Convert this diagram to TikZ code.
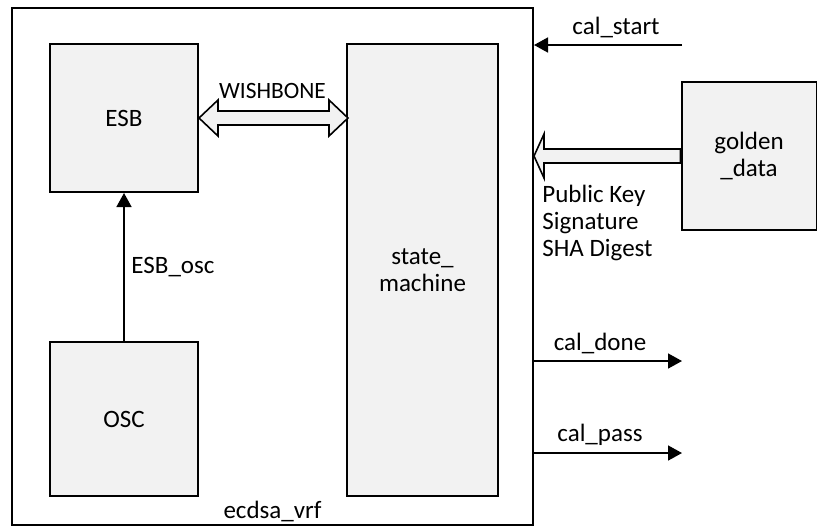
\documentclass[tikz,border=0pt]{standalone}
\usepackage{fontspec}
\setmainfont{Carlito}
\usetikzlibrary{arrows.meta,positioning,calc}
\definecolor{boxgray}{HTML}{F2F2F2}

\begin{document}
\begin{tikzpicture}[x=0.5pt,y=-0.5pt,
  lbl/.style={font=\fontsize{12.5}{13.5}\selectfont},
  blk/.style={draw=black,line width=1pt,fill=boxgray,inner sep=0pt,align=center,lbl},
  sig/.style={-{Triangle[length=7pt,width=7.5pt]},line width=0.8pt},
  bus/.style={draw=black,fill=boxgray,line width=0.8pt,line join=miter}]
  \useasboundingbox (0,0) rectangle (817,527);
  % top level block
  \node[blk,fill=white,minimum width=260.5pt,minimum height=258.5pt] (vrf) at (272.5,266.5) {};
  \node[lbl,above,inner sep=2pt] (vrfname) at (vrf.south) {ecdsa\_vrf};
  % sub blocks
  \node[blk,minimum width=74pt,minimum height=74pt] (esb) at (124,118) {ESB};
  \node[blk,minimum width=74pt,minimum height=77pt] (osc) at (124,419) {OSC};
  \node[blk,minimum width=75.5pt,minimum height=226pt] (sm) at (422.5,270) {state\_\\machine};
  \node[blk,minimum width=67.5pt,minimum height=74pt] (gd) at (749,156) {golden\\\_data};
  % clock line
  \draw[sig] (osc.north) -- node[lbl,right] {ESB\_osc} (esb.south);
  % wishbone bus
  \draw[bus] (esb.east) -- ++(19,-18) -- ++(0,11) -- ++(111,0) -- ++(0,-11) -- ++(19,18)
    -- ++(-19,18) -- ++(0,-11) -- ++(-111,0) -- ++(0,11) -- cycle;
  \node[font=\fontsize{11.7}{13}\selectfont,anchor=south,inner sep=1pt] (wb)
    at ($(esb.east)!0.5!(esb.east -| sm.west)+(0,-17)$) {WISHBONE};
  % golden data bus
  \coordinate (gtip) at (vrf.east |- gd.west);
  \draw[bus] (gtip) -- ++(10,-22) -- ++(0,15) -- ($(gd.west)+(0,-7)$) -- ($(gd.west)+(0,7)$)
    -- ($(gtip)+(10,7)$) -- ++(0,15) -- cycle;
  \node[lbl,align=left,anchor=north west,inner sep=0pt] (keys) at (542,185) {Public Key\\Signature\\SHA Digest};
  % control signals
  \coordinate (cs) at (682,45);
  \coordinate (cd) at (682,361);
  \coordinate (cp) at (682,453);
  \draw[sig] (cs) -- node[lbl,above,xshift=4pt] {cal\_start} (cs -| vrf.east);
  \draw[sig] (cd -| vrf.east) -- node[lbl,above,xshift=-4pt] {cal\_done} (cd);
  \draw[sig] (cp -| vrf.east) -- node[lbl,above,xshift=-4pt] {cal\_pass} (cp);
\end{tikzpicture}
\end{document}
